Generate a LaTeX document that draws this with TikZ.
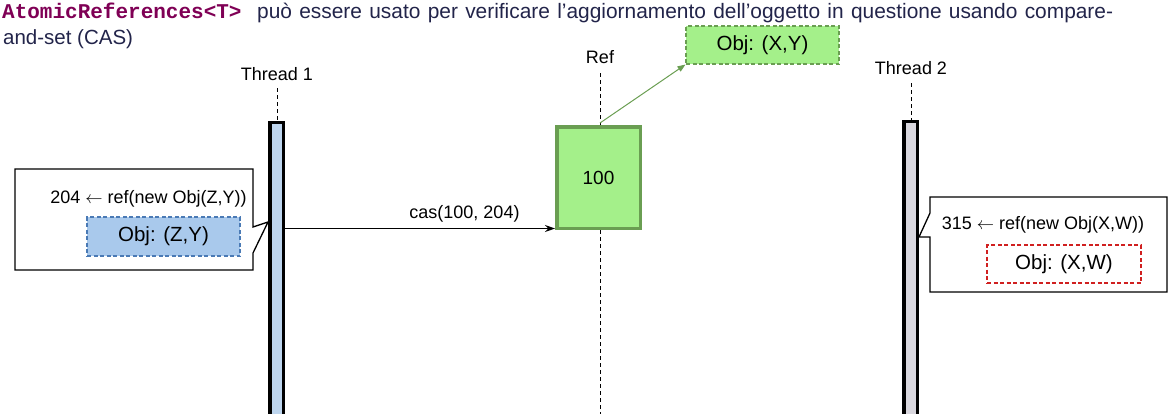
\documentclass[tikz,border=0pt]{standalone}
\usepackage{fontspec}
\setmainfont{Liberation Sans}
\setmonofont{Liberation Mono}
\usetikzlibrary{arrows.meta,positioning}
\definecolor{kwpurple}{HTML}{7F0055}
\definecolor{titletext}{HTML}{22244A}
\definecolor{objgreen}{HTML}{A4F08A}
\definecolor{refedge}{HTML}{6A9E52}
\definecolor{objblue}{HTML}{A9C9EC}
\definecolor{blueedge}{HTML}{4A7AB5}
\definecolor{barblue}{HTML}{BDD5EE}
\definecolor{bargray}{HTML}{D9D7DE}
\definecolor{rededge}{HTML}{D02020}

\begin{document}
\begin{tikzpicture}[x=1pt,y=-1pt,
  every node/.style={inner sep=0pt, font=\fontsize{18}{21}\selectfont},
  lifeline/.style={line width=1pt, dash pattern=on 4pt off 3pt},
  threadbar/.style={draw=black, line width=3.5pt, minimum width=13.5pt, minimum height=320pt, anchor=north},
  refbox/.style={draw=refedge, fill=objgreen, line width=3.5pt, minimum width=83.5pt, minimum height=101.5pt},
  objbox/.style={line width=1.1pt, dash pattern=on 4pt off 2.5pt, font=\fontsize{20.5}{24}\selectfont},
  callout/.style={draw=black, line width=1.3pt, fill=white, line join=miter},
  msg/.style={-{Stealth[length=10pt,width=7pt]}, line width=1pt}]
\useasboundingbox (0,0) rectangle (1171,413);
\clip (0,0) rectangle (1171,413);

% heading
\node[anchor=base west, text=kwpurple, font=\fontsize{21}{24}\selectfont\ttfamily\bfseries] (headcode) at (2,18) {AtomicReferences<T>};
\node[anchor=base west, text=titletext, font=\fontsize{20.9}{24}\selectfont] (headone) at (257,18) {\makebox[856pt][s]{può essere usato per verificare l’aggiornamento dell’oggetto in questione usando compare-}};
\node[anchor=base west, text=titletext, font=\fontsize{20.5}{24}\selectfont] (headtwo) at (3,44) {and-set (CAS)};

% lifelines
\node[anchor=base] (t1label) at (277,80) {Thread 1};
\node[anchor=base] (reflabel) at (600,63) {Ref};
\node[anchor=base] (t2label) at (911,74) {Thread 2};
\coordinate (t1top) at (277,88);
\coordinate (reftop) at (600,73);
\coordinate (refbot) at (600,420);
\coordinate (t2top) at (911,83);

\node[threadbar, fill=barblue] (bar1) at (276.5,120.75) {};
\node[threadbar, fill=bargray] (bar2) at (910.5,119.75) {};
\node[refbox] (refval) at (598.5,177.5) {\fontsize{19}{22}\selectfont 100};

\draw[lifeline] (t1top) -- (bar1.north -| t1top);
\draw[lifeline] (t2top) -- (bar2.north -| t2top);
\draw[lifeline] (reftop) -- (refval.north -| reftop);
\draw[lifeline] (refval.south -| reftop) -- (refbot);

% old object
\node[objbox, draw=refedge, fill=objgreen, minimum width=153pt, minimum height=38pt] (objxy) at (762.5,45) {Obj: (X,Y)};
\draw[refedge, line width=1pt, -{Triangle[length=8pt,width=6pt]}] (reftop |- 0,123) -- (objxy.south west);

% thread 1 callout
\coordinate (tip1) at (268,222);
\draw[callout] (15,169) -- (253,169) -- (253,227) -- (tip1) -- (253,253) -- (253,270) -- (15,270) -- cycle;
\node[anchor=base] (new1) at (148.5,203) {204 $\leftarrow$ ref(new Obj(Z,Y))};
\node[objbox, draw=blueedge, fill=objblue, minimum width=153pt, minimum height=39pt] (objzy) at (163.5,236.5) {Obj: (Z,Y)};

% compare-and-set
\coordinate (casy) at (0,228.5);
\draw[msg] (bar1.east |- casy) -- (refval.west |- casy);
\node[anchor=base] (caslabel) at (464.5,218) {cas(100, 204)};

% thread 2 callout
\coordinate (tip2) at (919,237);
\draw[callout] (930,197) -- (1167,197) -- (1167,292) -- (930,292) -- (930,237) -- (tip2) -- (930,213) -- cycle;
\node[anchor=base] (new2) at (1043,229) {315 $\leftarrow$ ref(new Obj(X,W))};
\node[objbox, draw=rededge, fill=white, minimum width=154pt, minimum height=38pt] (objxw) at (1064,264) {Obj: (X,W)};
\end{tikzpicture}
\end{document}
